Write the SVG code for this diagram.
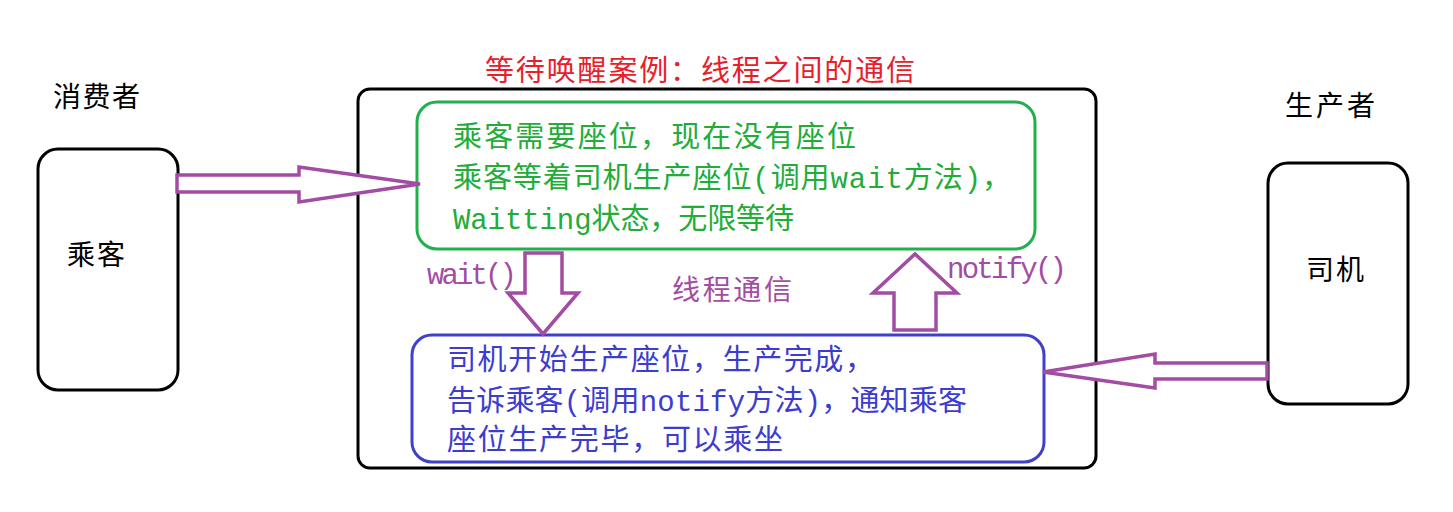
<svg xmlns="http://www.w3.org/2000/svg" width="1453" height="512" viewBox="0 0 1453 512">
<style>
.box{fill:#fff;stroke:#000;stroke-width:3}
.arrow{fill:#fff;stroke:#a24ca4;stroke-width:3.5;stroke-linejoin:miter}
.t{font-family:"Liberation Mono","Noto Sans CJK SC",monospace;font-size:29px}
.lbl{font-family:"Noto Sans CJK SC",sans-serif;font-size:28px;fill:#000}
.g{fill:#22ac38}
.b{fill:#3c3cd0}
.p{fill:#a24ca4}
</style>
<rect width="1453" height="512" fill="#fff"/>
<g id="title"><text class="t" x="485" y="81" fill="#e8202a" textLength="430" lengthAdjust="spacing">等待唤醒案例：线程之间的通信</text></g>
<g id="consumer-label"><text class="lbl" x="53" y="107" textLength="87" lengthAdjust="spacing">消费者</text></g>
<g id="producer-label"><text class="lbl" x="1285" y="116" textLength="90" lengthAdjust="spacing">生产者</text></g>
<g id="container"><rect class="box" x="358" y="89" width="738" height="379" rx="12"/></g>
<g id="passenger"><rect class="box" x="38" y="149" width="140" height="241" rx="20"/><text class="lbl" x="67" y="265" textLength="58" lengthAdjust="spacing">乘客</text></g>
<g id="driver"><rect class="box" x="1268" y="163" width="140" height="241" rx="20"/><text class="lbl" x="1306" y="280" textLength="58" lengthAdjust="spacing">司机</text></g>
<g id="wait-box">
<rect x="417" y="102" width="618" height="147" rx="20" fill="#fff" stroke="#22b04c" stroke-width="3"/>
<text class="t g" x="453" y="147" textLength="403" lengthAdjust="spacing">乘客需要座位，现在没有座位</text>
<text class="t g" x="453" y="188" textLength="558" lengthAdjust="spacing">乘客等着司机生产座位(调用wait方法)，</text>
<text class="t g" x="453" y="229" textLength="341" lengthAdjust="spacing">Waitting状态，无限等待</text>
</g>
<g id="notify-box">
<rect x="412" y="335" width="632" height="127" rx="20" fill="#fff" stroke="#4040c8" stroke-width="3"/>
<text class="t b" x="447" y="370" textLength="427" lengthAdjust="spacing">司机开始生产座位，生产完成，</text>
<text class="t b" x="447" y="411" textLength="520" lengthAdjust="spacing">告诉乘客(调用notify方法)，通知乘客</text>
<text class="t b" x="447" y="450" textLength="336" lengthAdjust="spacing">座位生产完毕，可以乘坐</text>
</g>
<g id="connectors">
<polygon class="arrow" points="177,175 299,175 299,167 420,184 299,202 299,192 177,192"/>
<polygon class="arrow" points="525,253 562,253 562,293 578,293 543,334 508,293 525,293"/>
<polygon class="arrow" points="894,330 936,330 936,293 957,293 915,254 873,293 894,293"/>
<polygon class="arrow" points="1267,363 1155,363 1155,354 1043,372 1155,388 1155,379 1267,379"/>
<text class="t p" x="427" y="284" font-size="24" textLength="90" lengthAdjust="spacing">wait()</text>
<text class="t p" x="947" y="278" font-size="24" textLength="120" lengthAdjust="spacing">notify()</text>
<text class="lbl p" x="672" y="300" textLength="120" lengthAdjust="spacing">线程通信</text>
</g>
</svg>
